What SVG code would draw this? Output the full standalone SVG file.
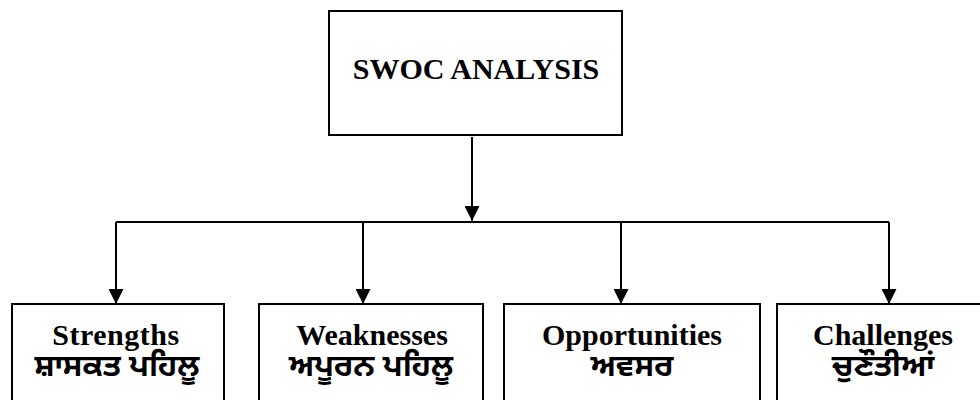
<svg xmlns="http://www.w3.org/2000/svg" width="980" height="400" viewBox="0 0 980 400">
<defs>
<marker id="ah" markerWidth="15" markerHeight="15" refX="15" refY="7.5" orient="auto" markerUnits="userSpaceOnUse">
<path d="M0,0 L15,7.5 L0,15 Z" fill="#000"/>
</marker>
<style>
.box{fill:#fff;stroke:#000;stroke-width:2}
.en{font-family:"Liberation Serif","Times New Roman",serif;font-weight:bold;font-size:30px;text-anchor:middle;fill:#000}
.pa{font-family:"Noto Sans Gurmukhi","Lohit Gurmukhi","Raavi","Noto Sans",sans-serif;font-weight:bold;font-size:31px;text-anchor:middle;fill:#000}
.ln{fill:none;stroke:#000;stroke-width:2}
</style>
</defs>
<rect width="980" height="400" fill="#fff"/>
<g id="connectors">
<line class="ln" x1="472" y1="137" x2="472" y2="221" marker-end="url(#ah)"/>
<polyline class="ln" points="116,222 889,222"/>
<line class="ln" x1="116" y1="222" x2="116" y2="304" marker-end="url(#ah)"/>
<line class="ln" x1="363" y1="222" x2="363" y2="304" marker-end="url(#ah)"/>
<line class="ln" x1="621" y1="222" x2="621" y2="304" marker-end="url(#ah)"/>
<line class="ln" x1="889" y1="222" x2="889" y2="304" marker-end="url(#ah)"/>
</g>
<g id="swoc">
<rect class="box" x="329" y="11" width="293" height="124"/>
<text class="en" x="476" y="79">SWOC ANALYSIS</text>
</g>
<g id="strengths">
<rect class="box" x="12" y="304" width="212" height="110"/>
<text class="en" x="116" y="345" letter-spacing="0.5">Strengths</text>
<text class="pa" x="117" y="376">ਸ਼ਾਸਕਤ ਪਹਿਲੂ</text>
</g>
<g id="weaknesses">
<rect class="box" x="259" y="304" width="224" height="110"/>
<text class="en" x="372" y="345">Weaknesses</text>
<text class="pa" x="371" y="376">ਅਪੂਰਨ ਪਹਿਲੂ</text>
</g>
<g id="opportunities">
<rect class="box" x="504" y="304" width="256" height="110"/>
<text class="en" x="632" y="345">Opportunities</text>
<text class="pa" x="632" y="376">ਅਵਸਰ</text>
</g>
<g id="challenges">
<rect class="box" x="777" y="304" width="213" height="110"/>
<text class="en" x="883" y="345">Challenges</text>
<text class="pa" x="883" y="376">ਚੁਣੌਤੀਆਂ</text>
</g>
</svg>
